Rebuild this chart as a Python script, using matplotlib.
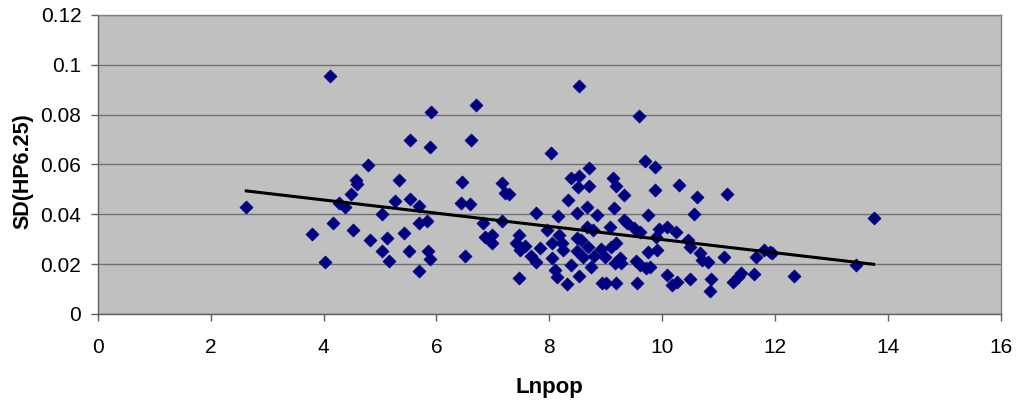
import numpy as np
import matplotlib
matplotlib.use("Agg")
import matplotlib.pyplot as plt

plt.rcParams['font.family'] = ['Liberation Sans', 'DejaVu Sans']

lnpop = [
    2.63, 4.11, 3.80, 4.02, 4.17, 4.28, 4.38, 4.48, 4.58, 4.59, 4.52, 4.79, 4.82,
    5.04, 5.04, 5.13, 5.16, 5.34, 5.27, 5.43, 5.52, 5.54, 5.54, 5.69, 5.69, 5.83,
    5.69, 5.85, 5.88, 5.88, 5.91, 6.70, 6.62, 6.46, 6.43, 6.59, 6.50,
    6.83, 6.86, 6.98, 6.99, 7.17, 7.21, 7.28, 7.17, 7.46, 7.41, 7.48, 7.57, 7.46,
    7.68, 7.77, 7.77, 7.84, 8.03, 7.96, 8.04, 8.04, 8.10, 8.14, 8.16, 8.17, 8.23,
    8.24, 8.32, 8.33, 8.38, 8.38, 8.49, 8.49, 8.49, 8.51, 8.53, 8.53, 8.53, 8.57,
    8.60, 8.66, 8.67, 8.69, 8.70, 8.70, 8.74, 8.78, 8.80, 8.84, 8.92, 8.94, 8.98,
    9.01, 9.07, 9.09, 9.13, 9.14, 9.18, 9.16, 9.18, 9.19, 9.25, 9.27, 9.32, 9.32,
    9.37, 9.50, 9.53, 9.55, 9.59, 9.60, 9.61, 9.69, 9.72, 9.75, 9.75, 9.79, 9.87,
    9.87, 9.90, 9.91, 9.95, 10.09, 10.09, 10.18, 10.25, 10.26, 10.30, 10.46, 10.49,
    10.49, 10.56, 10.61, 10.68, 10.71, 10.81, 10.87, 10.85, 11.10, 11.15, 11.25,
    11.35, 11.39, 11.62, 11.67, 11.81, 11.94, 11.91, 12.33, 13.44, 13.75,
]
sd_hp = [
    0.0428, 0.0955, 0.0320, 0.0209, 0.0366, 0.0447, 0.0428, 0.0482, 0.0538, 0.0522,
    0.0337, 0.0599, 0.0297, 0.0400, 0.0254, 0.0304, 0.0214, 0.0538, 0.0455, 0.0324,
    0.0254, 0.0696, 0.0460, 0.0435, 0.0366, 0.0373, 0.0174, 0.0252, 0.0222, 0.0671,
    0.0811, 0.0839, 0.0696, 0.0530, 0.0447, 0.0441, 0.0234,
    0.0364, 0.0308, 0.0317, 0.0286, 0.0527, 0.0484, 0.0482, 0.0374, 0.0317, 0.0286,
    0.0257, 0.0273, 0.0146, 0.0233, 0.0207, 0.0407, 0.0264, 0.0647, 0.0337, 0.0284,
    0.0224, 0.0177, 0.0150, 0.0395, 0.0317, 0.0286, 0.0257, 0.0119, 0.0457, 0.0545,
    0.0197, 0.0407, 0.0304, 0.0253, 0.0511, 0.0554, 0.0915, 0.0152, 0.0297, 0.0230,
    0.0350, 0.0428, 0.0268, 0.0514, 0.0585, 0.0190, 0.0337, 0.0233, 0.0397, 0.0262,
    0.0123, 0.0230, 0.0123, 0.0348, 0.0270, 0.0545, 0.0424, 0.0514, 0.0203, 0.0123,
    0.0284, 0.0224, 0.0203, 0.0478, 0.0377, 0.0366, 0.0344, 0.0214, 0.0123, 0.0796,
    0.0330, 0.0197, 0.0614, 0.0183, 0.0397, 0.0250, 0.0190, 0.0498, 0.0589, 0.0310,
    0.0257, 0.0340, 0.0348, 0.0156, 0.0116, 0.0330, 0.0130, 0.0518, 0.0297, 0.0270,
    0.0139, 0.0401, 0.0471, 0.0246, 0.0217, 0.0210, 0.0139, 0.0094, 0.0230, 0.0482,
    0.0130, 0.0150, 0.0166, 0.0160, 0.0230, 0.0257, 0.0243, 0.0250, 0.0152, 0.0197,
    0.0387,
]

x_ticks = [0, 2, 4, 6, 8, 10, 12, 14, 16]
y_ticks = [0, 0.02, 0.04, 0.06, 0.08, 0.1, 0.12]
y_tick_labels = ['0', '0.02', '0.04', '0.06', '0.08', '0.1', '0.12']

x = np.array(lnpop)
y = np.array(sd_hp)

fig = plt.figure(figsize=(10.2, 4.01), dpi=100)
ax = fig.add_axes([0.096, 0.217, 0.885, 0.746])
ax.set_facecolor('#C0C0C0')

ax.scatter(x, y, marker='D', s=44, color='#000080', edgecolors='#000080',
           linewidths=0.5, zorder=3)

coef = np.polyfit(x, y, 1)
xl = np.array([x.min(), x.max()])
ax.plot(xl, np.polyval(coef, xl), color='black', lw=2.2, zorder=4)

ax.set_xlim(0, 16)
ax.set_ylim(0, 0.12)
ax.set_xticks(x_ticks)
ax.set_xticklabels([str(t) for t in x_ticks])
ax.set_yticks(y_ticks)
ax.set_yticklabels(y_tick_labels)
ax.yaxis.grid(True, color='#707070', lw=1.0)
ax.set_axisbelow(True)

for s in ['left', 'bottom']:
    ax.spines[s].set_color('#606060')
    ax.spines[s].set_linewidth(1.0)
for s in ['top', 'right']:
    ax.spines[s].set_color('#808080')
    ax.spines[s].set_linewidth(1.0)

ax.tick_params(axis='both', direction='out', length=5, width=1, color='#606060',
               labelcolor='black')
ax.tick_params(axis='x', pad=12, labelsize=15)
ax.tick_params(axis='y', pad=7, labelsize=15)

ax.set_xlabel('Lnpop', fontsize=16, fontweight='bold')
ax.set_ylabel('SD(HP6.25)', fontsize=15.5, fontweight='bold')
ax.xaxis.set_label_coords(0.5, -0.246)
ax.yaxis.set_label_coords(-0.083, 0.477)
ax.xaxis.label.set_va('center')
ax.yaxis.label.set_va('center')

fig.savefig('out.png', dpi=100, facecolor='white')
